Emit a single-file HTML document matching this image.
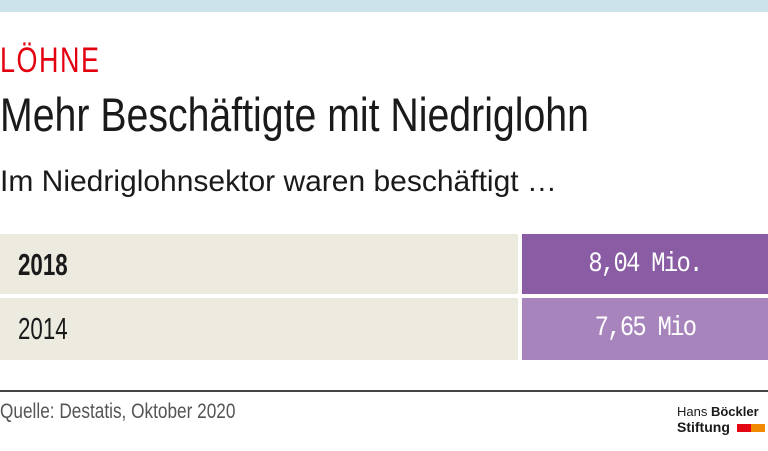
<!DOCTYPE html>
<html><head><meta charset="utf-8"><style>
body{margin:0;width:768px;height:451px;background:#fff;position:relative;overflow:hidden;font-family:"Liberation Sans",sans-serif}
.a{position:absolute;white-space:nowrap}
.n{transform-origin:0 50%}
</style></head><body>
<div class="a" style="left:0;top:0;width:768px;height:12px;background:#cde3ec"></div>
<div class="a n" style="left:0;top:41px;font-size:35px;color:#e3000f;letter-spacing:2px;line-height:40px;transform:scaleX(0.77)">LÖHNE</div>
<div class="a n" style="left:0;top:89px;font-size:47px;color:#1a1a1a;line-height:52px;transform:scaleX(0.835)">Mehr Beschäftigte mit Niedriglohn</div>
<div class="a" style="left:0;top:165px;font-size:30px;color:#1a1a1a;line-height:34px">Im Niedriglohnsektor waren beschäftigt …</div>
<div class="a" style="left:0;top:234px;width:518px;height:60px;background:#edebe0"></div>
<div class="a" style="left:522px;top:234px;width:246px;height:60px;background:#8a5ca4"></div>
<div class="a" style="left:0;top:298px;width:518px;height:62px;background:#edebe0"></div>
<div class="a" style="left:522px;top:298px;width:246px;height:62px;background:#a784bb"></div>
<div class="a n" style="left:18px;top:247px;font-size:31px;font-weight:bold;color:#1a1a1a;line-height:36px;transform:scaleX(0.72)">2018</div>
<div class="a n" style="left:18px;top:311px;font-size:31px;color:#1a1a1a;line-height:36px;transform:scaleX(0.72)">2014</div>
<div class="a" style="left:522px;width:246px;text-align:center;top:247px;font-family:'Liberation Mono',monospace;font-size:28px;color:#fff;line-height:36px;letter-spacing:-2px;transform:scaleX(0.85)">8,04 Mio.</div>
<div class="a" style="left:522px;width:246px;text-align:center;top:311px;font-family:'Liberation Mono',monospace;font-size:28px;color:#fff;line-height:36px;letter-spacing:-2px;transform:scaleX(0.85)">7,65 Mio</div>
<div class="a" style="left:0;top:390px;width:768px;height:2px;background:#444"></div>
<div class="a n" style="left:0;top:399px;font-size:21px;color:#555;line-height:26px;transform:scaleX(0.82)">Quelle: Destatis, Oktober 2020</div>
<div class="a" style="left:677px;top:404px;font-size:13px;color:#1a1a1a;line-height:16px">Hans <b>Böckler</b></div>
<div class="a" style="left:677px;top:419px;font-size:14px;font-weight:bold;color:#1a1a1a;line-height:16px">Stiftung</div>
<div class="a" style="left:737px;top:424px;width:14px;height:8px;background:#e30613"></div>
<div class="a" style="left:751px;top:424px;width:14px;height:8px;background:#f18a00"></div>
</body></html>
